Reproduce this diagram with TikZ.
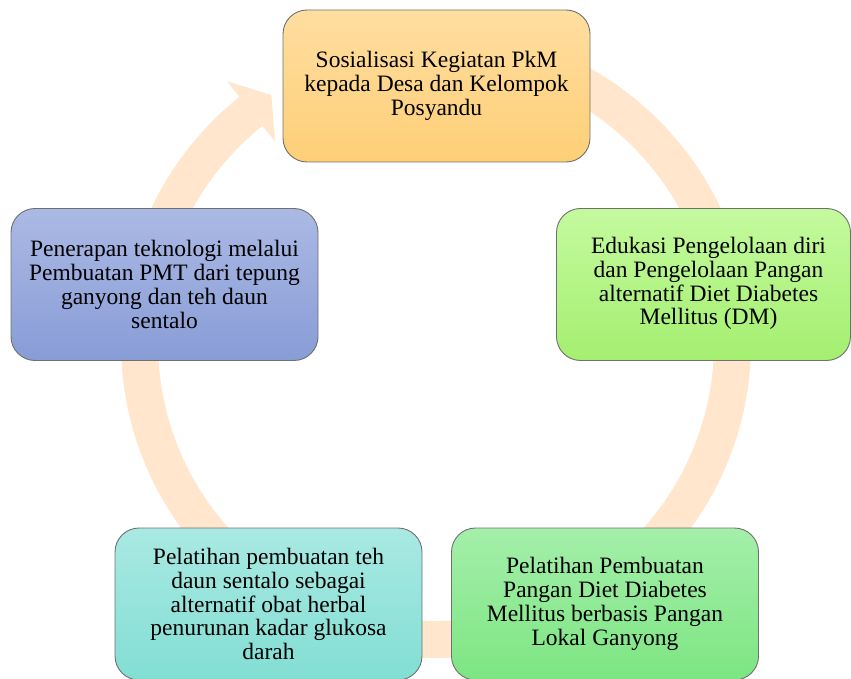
\documentclass[tikz,border=0pt]{standalone}
\usepackage{fontspec}
\setmainfont{Liberation Serif}
\usetikzlibrary{calc}
\definecolor{band}{HTML}{FFE6CC}
\definecolor{boxline}{HTML}{707070}
\definecolor{orT}{HTML}{FFDEA0}
\definecolor{orB}{HTML}{FDCF77}
\definecolor{lgT}{HTML}{C4FA9E}
\definecolor{lgB}{HTML}{A4EF70}
\definecolor{gT}{HTML}{A4EFAA}
\definecolor{gB}{HTML}{7DE582}
\definecolor{tT}{HTML}{A9E9E3}
\definecolor{tB}{HTML}{82DED3}
\definecolor{bT}{HTML}{ABB9E4}
\definecolor{bB}{HTML}{889CD6}
\begin{document}
\begin{tikzpicture}[x=1pt,y=1pt,
  cyclebox/.style={draw=boxline, line width=0.9pt, rounded corners=24pt,
    minimum width=307pt, minimum height=152pt, align=center,
    font=\fontsize{23.5}{23.8}\selectfont, inner sep=0pt},
]
\useasboundingbox (0,0) rectangle (851,-679);
\clip (0,0) rectangle (851,-679);
\coordinate (C) at (436,-343);
% circular band
\draw[band, line width=37pt] ($(C)+(90:296.5)$) arc[start angle=90, end angle=-231.4, radius=296.5];
\coordinate (barbO) at ($(C)+(128.6:335)$);
\coordinate (barbI) at ($(C)+(128.6:258)$);
\coordinate (tip) at ($(C)+(128.6:296.5)+(38.6:26)$);
\fill[band] (barbO) -- (tip) -- (barbI) -- cycle;
% boxes
\node[cyclebox, top color=orT, bottom color=orB] (n1) at (436.5,-86)
  {Sosialisasi Kegiatan PkM\\kepada Desa dan Kelompok\\Posyandu};
\node[cyclebox, minimum width=294pt, top color=lgT, bottom color=lgB] (n2) at (703.5,-284.5)
  {\hspace*{10pt}\begin{tabular}{@{}c@{}}Edukasi Pengelolaan diri\\dan Pengelolaan Pangan\\alternatif Diet Diabetes\\Mellitus (DM)\end{tabular}};
\node[cyclebox, top color=gT, bottom color=gB] (n3) at (605,-604)
  {Pelatihan Pembuatan\\Pangan Diet Diabetes\\Mellitus berbasis Pangan\\Lokal Ganyong};
\node[cyclebox, top color=tT, bottom color=tB] (n4) at (268.5,-604)
  {Pelatihan pembuatan teh\\daun sentalo sebagai\\alternatif obat herbal\\penurunan kadar glukosa\\darah};
\node[cyclebox, top color=bT, bottom color=bB] (n5) at (164.5,-284.5)
  {Penerapan teknologi melalui\\Pembuatan PMT dari tepung\\ganyong dan teh daun\\sentalo};
\end{tikzpicture}
\end{document}
